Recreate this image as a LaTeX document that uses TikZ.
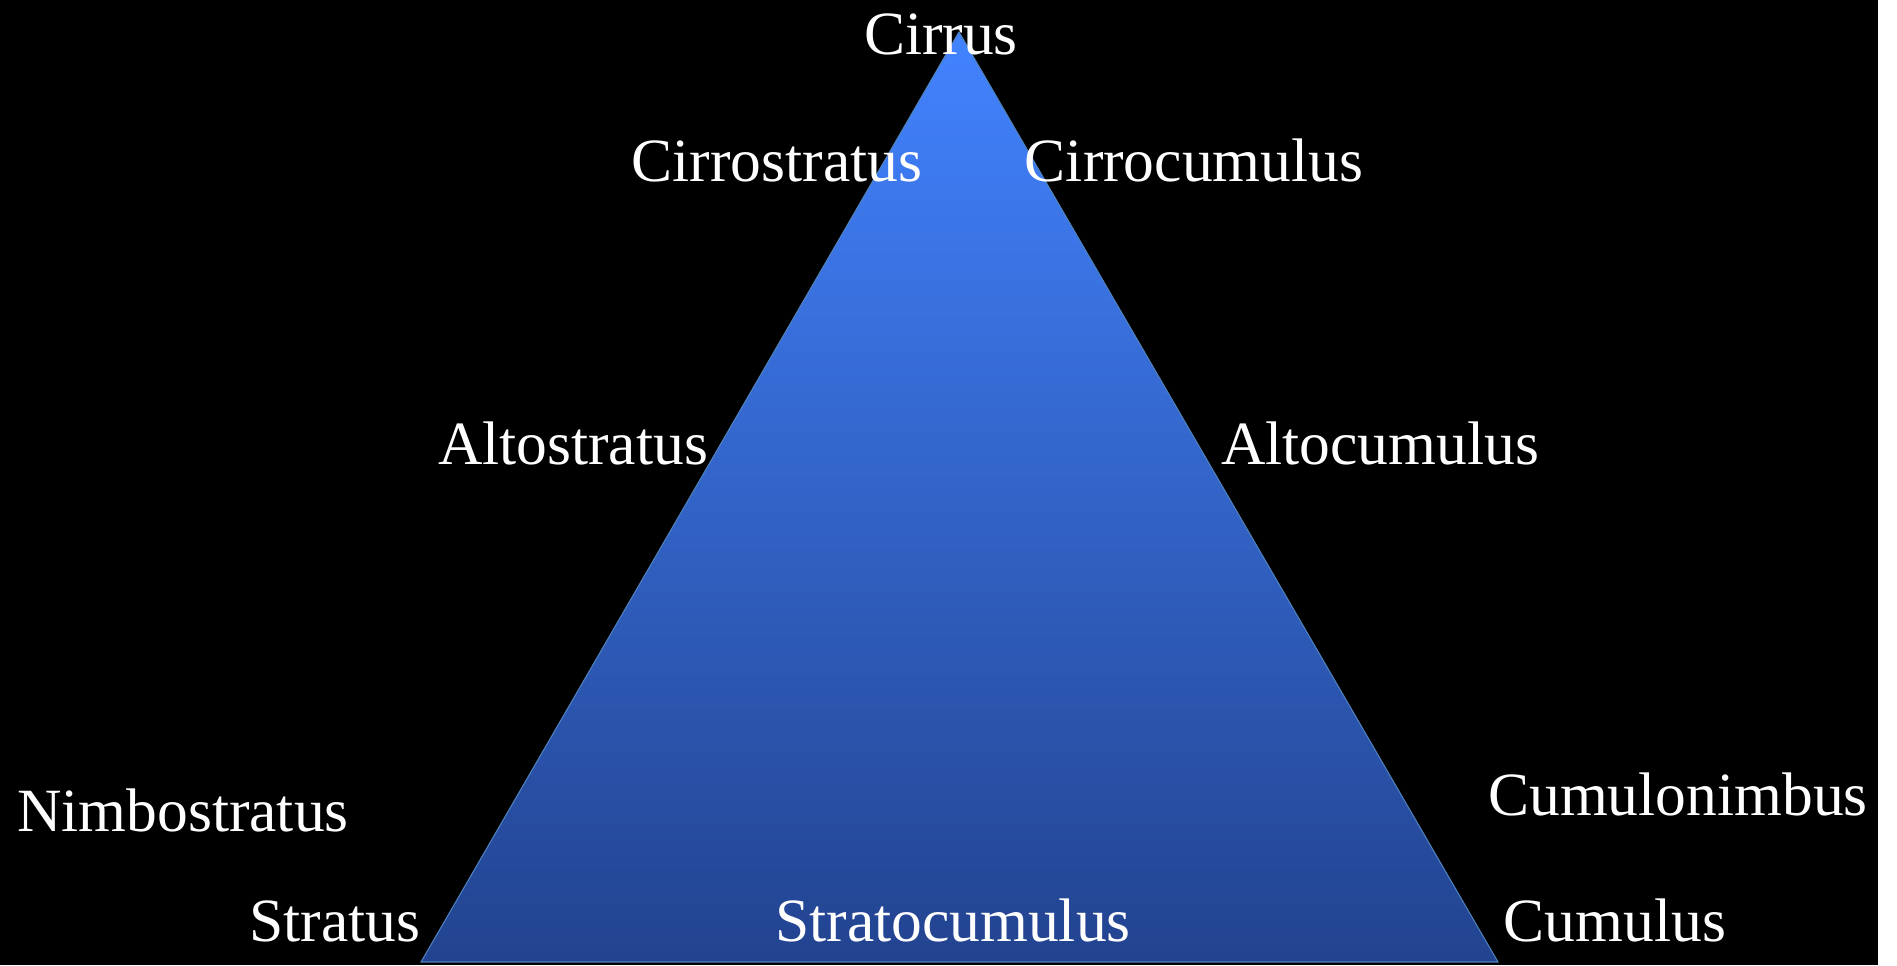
\documentclass[tikz,border=0pt]{standalone}
\usepackage{fontspec}
\setmainfont{Liberation Serif}
\definecolor{skytop}{HTML}{4283FF}
\definecolor{skybottom}{HTML}{22438F}
\definecolor{skyedge}{HTML}{4F81BD}

\begin{document}
\begin{tikzpicture}[x=0.2mm,y=0.2mm,
  cloud/.style={text=white,inner sep=0pt,anchor=base,
    font=\fontsize{35}{42}\selectfont}]
  \fill[white] (0,0) rectangle (1897,965);
  \fill[black] (0,0) rectangle (1878,965);
  \coordinate (top) at (959,933);
  \coordinate (left) at (421,3);
  \coordinate (right) at (1498,3);
  \shade[top color=skytop,bottom color=skybottom] (top) -- (right) -- (left) -- cycle;
  \draw[skyedge,line width=0.6pt] (top) -- (right) -- (left) -- cycle;
  % high clouds
  \node[cloud] (cirrus) at (941,910) {Cirrus};
  \node[cloud] (cirrostratus) at (777,783) {Cirrostratus};
  \node[cloud] (cirrocumulus) at (1194,783) {Cirrocumulus};
  % middle clouds
  \node[cloud] (altostratus) at (573,500) {Altostratus};
  \node[cloud] (altocumulus) at (1380,500) {Altocumulus};
  % low clouds
  \node[cloud] (nimbostratus) at (183,134) {Nimbostratus};
  \node[cloud] (cumulonimbus) at (1678,150) {Cumulonimbus};
  \node[cloud] (stratus) at (335,24) {Stratus};
  \node[cloud] (stratocumulus) at (953,24) {Stratocumulus};
  \node[cloud] (cumulus) at (1615,24) {Cumulus};
\end{tikzpicture}
\end{document}
